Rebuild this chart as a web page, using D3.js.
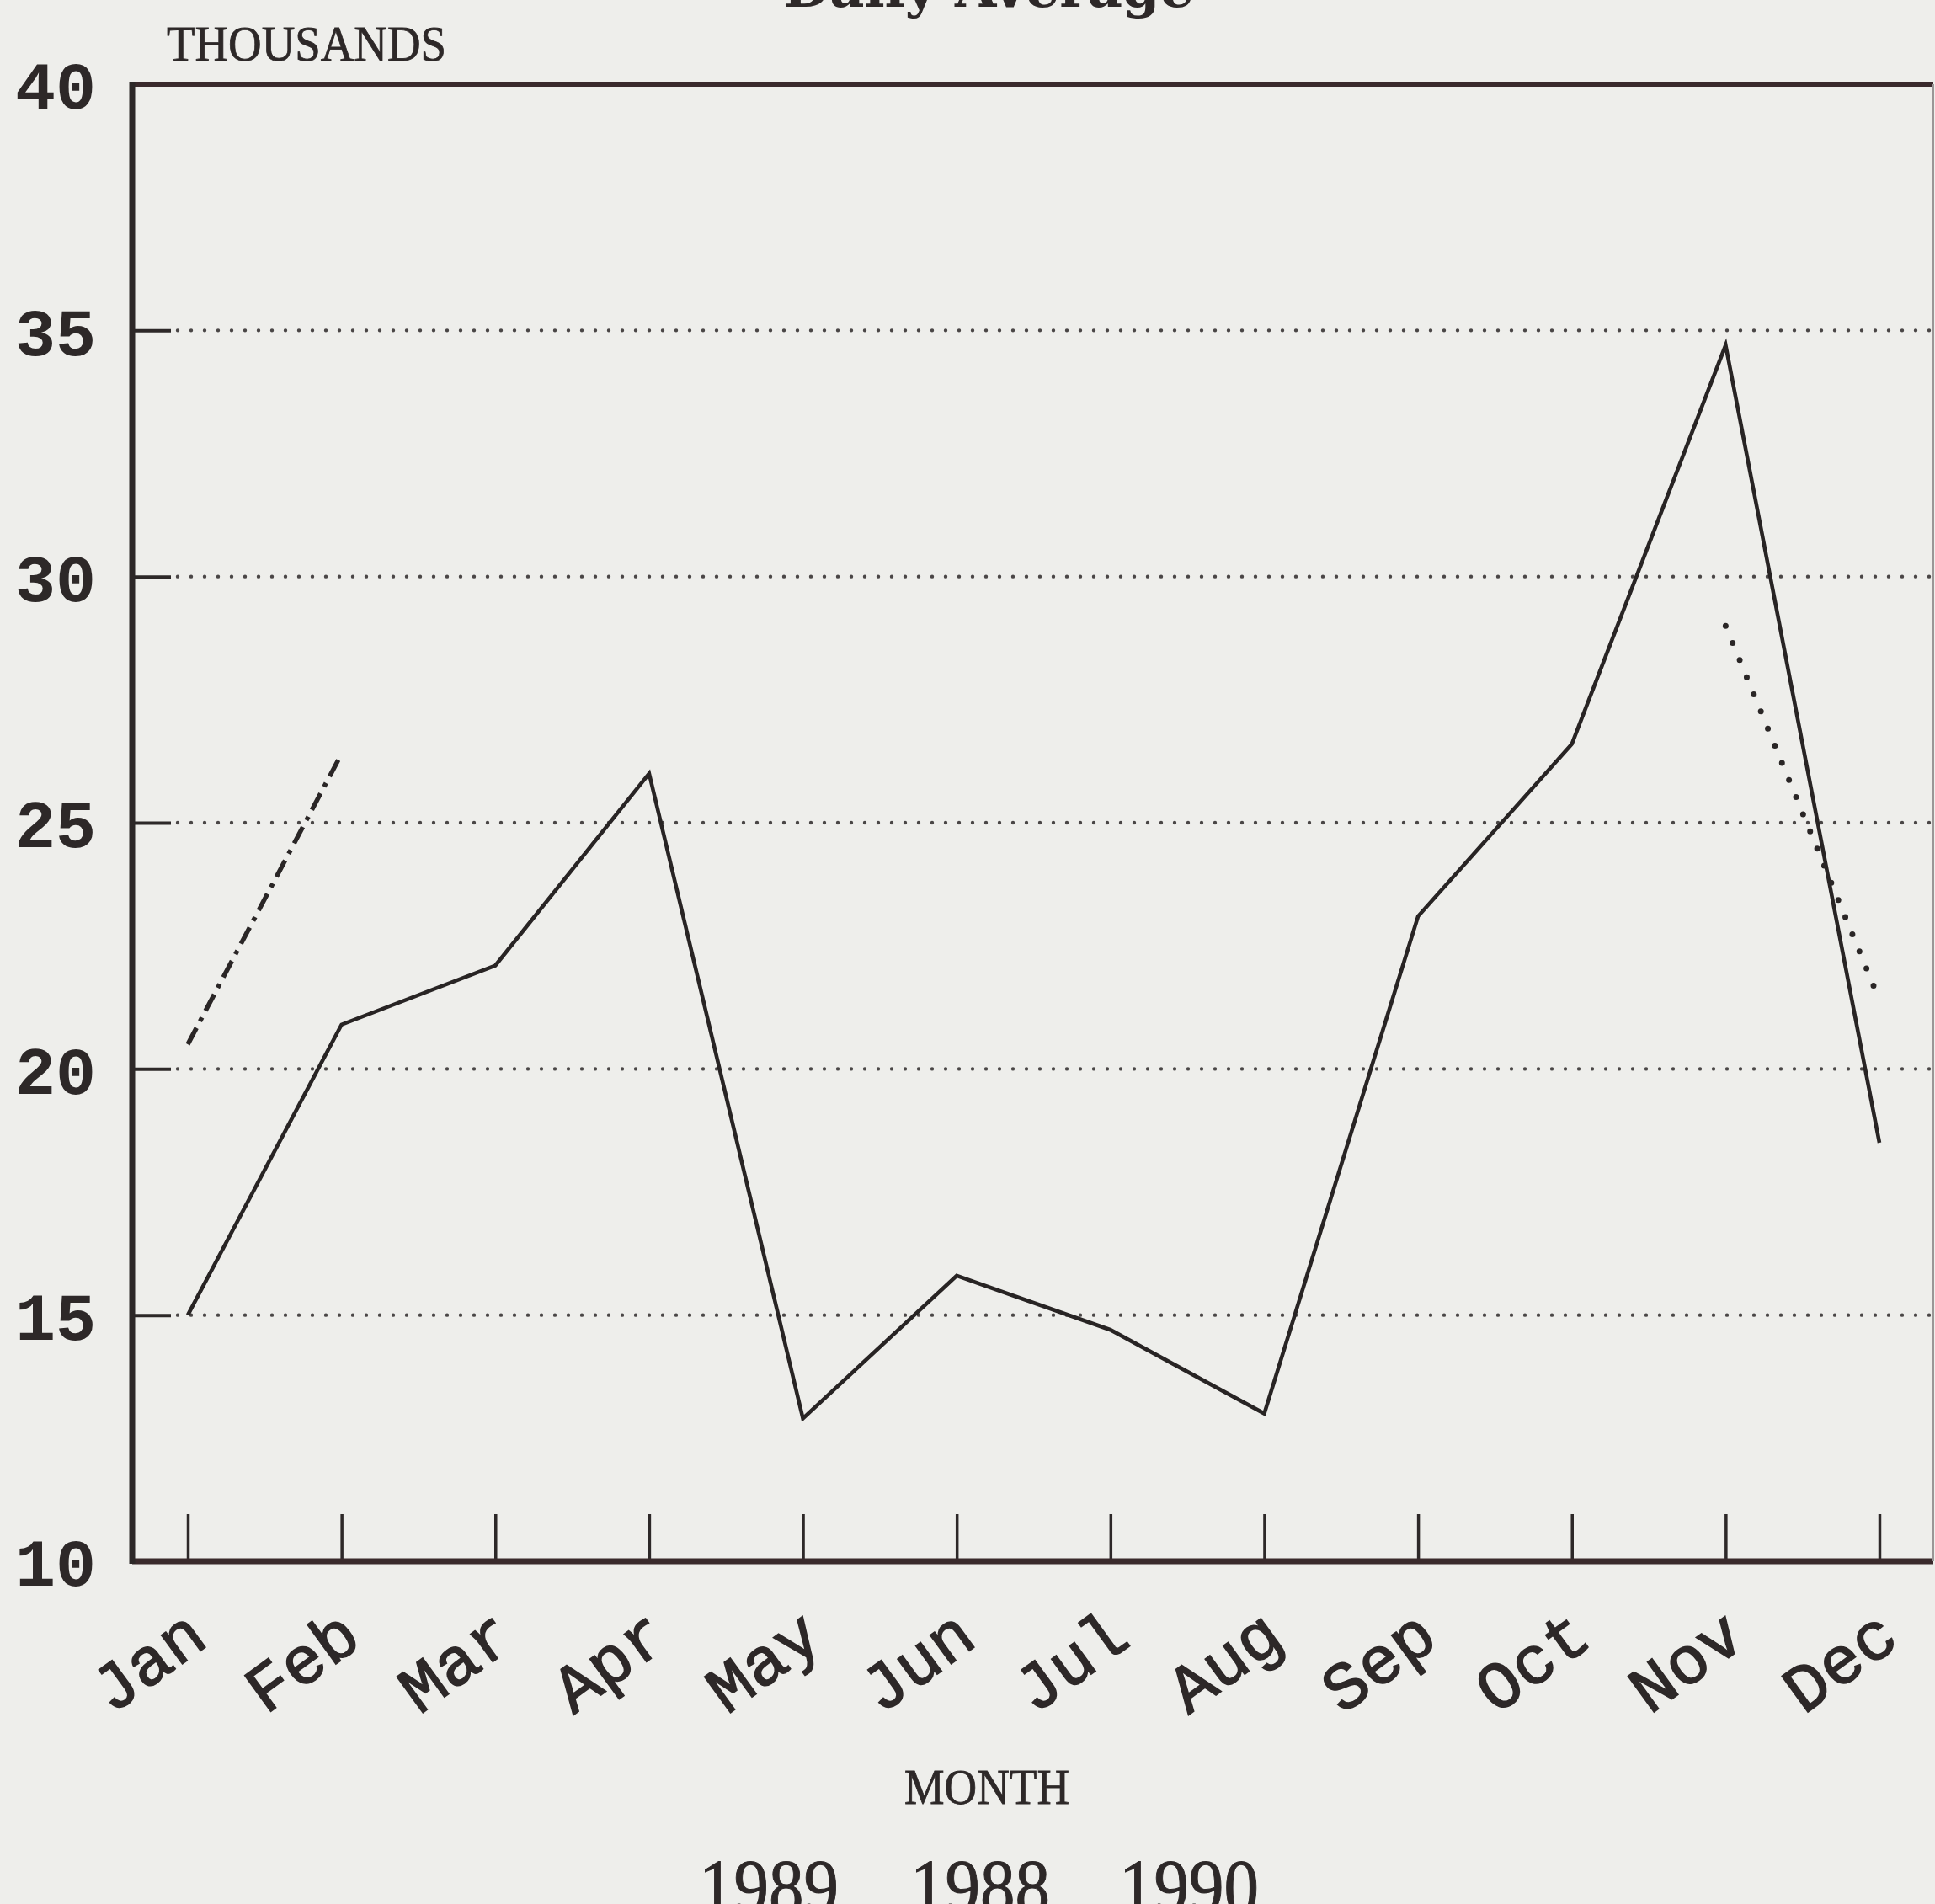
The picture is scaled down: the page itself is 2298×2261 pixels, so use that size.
<!DOCTYPE html>
<html><head><meta charset="utf-8">
<script src="https://cdn.jsdelivr.net/npm/d3@7"></script>
<style>html,body{margin:0;padding:0;background:#eeeeeb;overflow:hidden}svg{display:block}</style>
</head><body>
<svg id="chart" width="2298" height="2261"></svg>
<script>
// ---- data ----
const months = ["Jan","Feb","Mar","Apr","May","Jun","Jul","Aug","Sep","Oct","Nov","Dec"];
const values1989 = [15.0, 20.9, 22.1, 26.0, 12.9, 15.8, 14.7, 13.0, 23.1, 26.6, 34.7, 18.5];
const months1990 = ["Jan","Feb"];
const values1990 = [20.5, 26.4];
const months1988 = ["Nov","Dec"];
const values1988 = [29.0, 21.4];
const yTicks = [10, 15, 20, 25, 30, 35, 40];
const gridValues = [15, 20, 25, 30, 35];
const legendYears = ["1989", "1988", "1990"];
const titleText = "Daily Average";
const yTitle = "THOUSANDS";
const xTitle = "MONTH";

// ---- layout ----
const plotL = 157, plotR = 2296, plotT = 100, plotB = 1854;
const ink = "#2d2828";
const svg = d3.select("#chart");
svg.append("rect").attr("width", 2298).attr("height", 2261).attr("fill", "#eeeeeb");

const x = d3.scalePoint().domain(months).range([223, 2232]);
const y = d3.scaleLinear().domain([10, 40]).range([plotB, plotT]);

// dotted grid lines
svg.append("g").selectAll("line").data(gridValues).join("line")
  .attr("x1", plotL + 54).attr("x2", plotR)
  .attr("y1", d => y(d)).attr("y2", d => y(d))
  .attr("stroke", "#4a4646").attr("stroke-width", 4.4)
  .attr("stroke-linecap", "round").attr("stroke-dasharray", "0 16");

// y axis
const yAxis = d3.axisLeft(y).tickValues(yTicks).tickSizeInner(-46).tickSizeOuter(0).tickPadding(43).tickFormat(d3.format("d"));
const gy = svg.append("g").attr("transform", `translate(${plotL},0)`).call(yAxis);
gy.select(".domain").remove();
gy.selectAll(".tick line").attr("stroke", ink).attr("stroke-width", 4)
  .attr("display", d => (d === 10 || d === 40) ? "none" : null);
gy.selectAll(".tick text").attr("fill", ink)
  .style("font-family", "'Liberation Mono', 'Courier New', monospace")
  .style("font-size", "80px").style("font-weight", "bold").attr("dy", "0.36em");

// x axis (ticks pointing up inside frame)
const xAxis = d3.axisBottom(x).tickSizeInner(-56).tickSizeOuter(0);
const gx = svg.append("g").attr("transform", `translate(0,${plotB})`).call(xAxis);
gx.select(".domain").remove();
gx.selectAll(".tick line").attr("stroke", ink).attr("stroke-width", 3.5);
gx.selectAll(".tick text")
  .attr("x", 0).attr("y", 0).attr("dy", 0)
  .attr("transform", "translate(26,98) rotate(-36)")
  .attr("text-anchor", "end").attr("fill", ink)
  .attr("stroke", ink).attr("stroke-width", 1.6)
  .style("font-family", "'Liberation Mono', 'Courier New', monospace")
  .style("font-size", "80px");

// frame
svg.append("line").attr("x1", plotL).attr("x2", plotR).attr("y1", plotT).attr("y2", plotT)
  .attr("stroke", "#3a2a2c").attr("stroke-width", 6);
svg.append("line").attr("x1", plotL).attr("x2", plotR).attr("y1", plotB).attr("y2", plotB)
  .attr("stroke", "#3a2a2c").attr("stroke-width", 7);
svg.append("line").attr("x1", plotL).attr("x2", plotL).attr("y1", plotT - 3).attr("y2", plotB + 3)
  .attr("stroke", ink).attr("stroke-width", 7);
svg.append("line").attr("x1", plotR).attr("x2", plotR).attr("y1", plotT).attr("y2", plotB)
  .attr("stroke", "#9a9696").attr("stroke-width", 2);

// series
const line = d3.line().x(d => x(d.m)).y(d => y(d.v));
const s1989 = months.map((m, i) => ({m, v: values1989[i]}));
const s1990 = months1990.map((m, i) => ({m, v: values1990[i]}));
const s1988 = months1988.map((m, i) => ({m, v: values1988[i]}));

svg.append("path").datum(s1989).attr("d", line).attr("fill", "none")
  .attr("stroke", "#282424").attr("stroke-width", 4.6).attr("stroke-linejoin", "miter");
svg.append("path").datum(s1990).attr("d", line).attr("fill", "none")
  .attr("stroke", "#2a2626").attr("stroke-width", 5.5)
  .attr("stroke-dasharray", "22 9 5 9");
svg.append("path").datum(s1988).attr("d", line).attr("fill", "none")
  .attr("stroke", "#2a2626").attr("stroke-width", 7).attr("stroke-linecap", "round")
  .attr("stroke-dasharray", "0 22");

// texts
svg.append("text").text(titleText).attr("x", 1174).attr("y", 8).attr("text-anchor", "middle")
  .attr("textLength", 488).attr("lengthAdjust", "spacingAndGlyphs")
  .attr("fill", ink).style("font-family", "'DejaVu Serif', serif").style("font-size", "62px").style("font-weight", "bold");
svg.append("text").text(yTitle).attr("x", 198).attr("y", 72)
  .attr("textLength", 332).attr("lengthAdjust", "spacingAndGlyphs")
  .attr("fill", ink).attr("stroke", ink).attr("stroke-width", 0.8)
  .style("font-family", "'Liberation Serif', serif").style("font-size", "60px");
svg.append("text").text(xTitle).attr("x", 1172).attr("y", 2142).attr("text-anchor", "middle")
  .attr("textLength", 196).attr("lengthAdjust", "spacingAndGlyphs")
  .attr("fill", ink).attr("stroke", ink).attr("stroke-width", 0.8)
  .style("font-family", "'Liberation Serif', serif").style("font-size", "60px");

const legendX = [913, 1164, 1412];
svg.append("g").selectAll("text").data(legendYears).join("text")
  .text(d => d).attr("x", (d, i) => legendX[i]).attr("y", 2272).attr("text-anchor", "middle")
  .attr("textLength", 166).attr("lengthAdjust", "spacingAndGlyphs")
  .attr("fill", ink).attr("stroke", ink).attr("stroke-width", 1)
  .style("font-family", "'Liberation Serif', serif").style("font-size", "94px");
</script>
</body></html>
